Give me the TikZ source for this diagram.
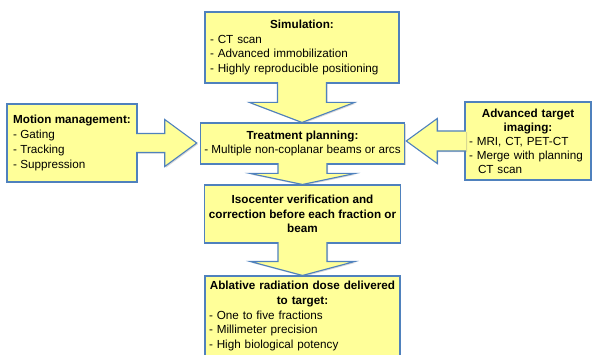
\documentclass[tikz,border=0pt]{standalone}
\usepackage{fontspec}
\setmainfont{Liberation Sans}
\usetikzlibrary{calc, shadows}
\definecolor{boxfill}{RGB}{255, 255, 153}
\definecolor{boxline}{RGB}{79, 129, 189}
\tikzstyle{box} = [rectangle, draw=boxline, fill=boxfill, line width=1.1pt,
                   inner xsep=4pt, inner ysep=2pt,
                   font=\fontsize{11.7}{14.7}\selectfont,
                   drop shadow={shadow xshift=1.2pt, shadow yshift=-1.2pt, opacity=0.3}]
\tikzstyle{blockarrow} = [draw=boxline, fill=boxfill, line width=1.1pt,
                   drop shadow={shadow xshift=1.2pt, shadow yshift=-1.2pt, opacity=0.3}]

% block arrows: #1 from, #2 to, #3 head length
\newcommand{\downblock}[3]{%
  \path[blockarrow] let \p1=(#1.south), \p2=(#2.north) in
    (\x1-24.5,\y1+1.5) -- (\x1-24.5,\y2+#3) -- (\x1-52.5,\y2+#3) -- (\x1,\y2)
    -- (\x1+52.5,\y2+#3) -- (\x1+24.5,\y2+#3) -- (\x1+24.5,\y1+1.5);}
\newcommand{\rightblock}[3]{%
  \path[blockarrow] let \p1=(#1.east), \p2=(#2.west) in
    (\x1-1.5,\y1+9.5) -- (\x2-3-#3,\y1+9.5) -- (\x2-3-#3,\y1+23.5) -- (\x2-3,\y1)
    -- (\x2-3-#3,\y1-23.5) -- (\x2-3-#3,\y1-9.5) -- (\x1-1.5,\y1-9.5);}
\newcommand{\leftblock}[3]{%
  \path[blockarrow] let \p1=(#1.west), \p2=(#2.east) in
    (\x1+1.5,\y1+10) -- (\x2+1+#3,\y1+10) -- (\x2+1+#3,\y1+22.5) -- (\x2+1,\y1)
    -- (\x2+1+#3,\y1-22.5) -- (\x2+1+#3,\y1-10) -- (\x1+1.5,\y1-10);}

\begin{document}
\begin{tikzpicture}[x=1pt, y=1pt]

    \clip (0,0) rectangle (592,354);

    \node (sim) [box, minimum width=194pt, minimum height=71pt, text width=184pt, align=left] at (302,306.5)
        {{\centering\bfseries Simulation:\par}- CT scan\\- Advanced immobilization\\- Highly reproducible positioning};

    \node (plan) [box, minimum width=195pt, minimum height=41pt, align=center] at (302.5,210.5)
        {\textbf{Treatment planning:}\\- Multiple non-coplanar beams or arcs};

    \node (iso) [box, minimum width=195pt, minimum height=58pt, align=center, font=\fontsize{11.7}{14.2}\selectfont\bfseries] at (302.5,140)
        {Isocenter verification and\\correction before each fraction or\\beam};

    \node (abl) [box, minimum width=195pt, minimum height=80pt, text width=187pt, align=left] at (302.5,38)
        {{\centering\bfseries Ablative radiation dose delivered\\to target:\par}- One to five fractions\\- Millimeter precision\\- High biological potency};

    \node (motion) [box, minimum width=130pt, minimum height=78pt, align=left] at (72,211)
        {\textbf{Motion management:}\\- Gating\\- Tracking\\- Suppression};

    \node (target) [box, minimum width=126pt, minimum height=78pt, text width=118pt, align=left, font=\fontsize{11.7}{14}\selectfont] at (528,213)
        {{\centering\bfseries Advanced target\\imaging:\par}- MRI, CT, PET-CT\\- Merge with planning\\\hspace*{9pt}CT scan};

    \downblock{sim}{plan}{20}
    \downblock{plan}{iso}{11}
    \downblock{iso}{abl}{14}
    \rightblock{motion}{plan}{32}
    \leftblock{target}{plan}{31}

\end{tikzpicture}
\end{document}
